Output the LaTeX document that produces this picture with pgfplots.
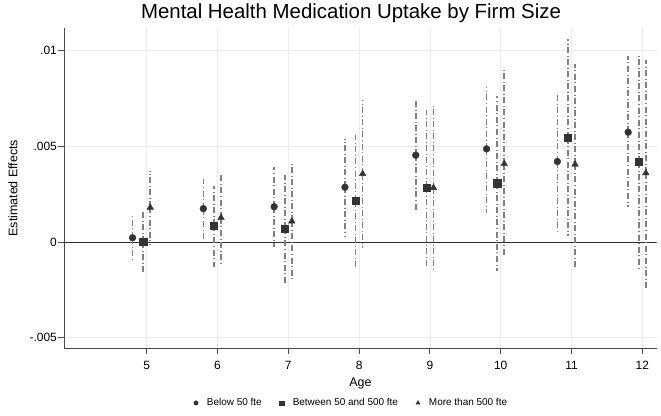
\documentclass[border=0pt]{standalone}
\usepackage{fontspec}
\setmainfont{Liberation Sans}
\usepackage{pgfplots}
\pgfplotsset{compat=1.18}
\usepackage{pgfplotstable}

\definecolor{mk}{HTML}{333333}
\definecolor{eb}{HTML}{808080}
\definecolor{gridc}{HTML}{EBEBEB}
\definecolor{axc}{HTML}{4A4A4A}

\pgfplotstableread{
x est lo hi
4.8 0.00022 -0.00094 0.00137
5.8 0.00174 0.00014 0.0033
6.8 0.00184 -0.00024 0.0039
7.8 0.00286 0.0003 0.0054
8.8 0.00453 0.0016 0.0075
9.8 0.00486 0.0015 0.0081
10.8 0.0042 0.00057 0.0078
11.8 0.00573 0.0018 0.0097
}\below

\pgfplotstableread{
x est lo hi
4.95 0.0000 -0.0016 0.0016
5.95 0.00087 -0.0013 0.0029
6.95 0.00071 -0.0022 0.0035
7.95 0.00215 -0.0014 0.0056
8.95 0.00285 -0.0013 0.0069
9.95 0.00307 -0.0015 0.0076
10.95 0.00545 0.0003 0.0106
11.95 0.00418 -0.0015 0.0098
}\between

\pgfplotstableread{
x est lo hi
5.05 0.0018 -0.0001 0.0037
6.05 0.00127 -0.0011 0.0036
7.05 0.00108 -0.0020 0.0041
8.05 0.00356 -0.0003 0.0074
9.05 0.00283 -0.0015 0.0071
10.05 0.00408 -0.0008 0.0090
11.05 0.00405 -0.0014 0.0093
12.05 0.0036 -0.0025 0.0095
}\above

\begin{document}
\begin{tikzpicture}
\path[use as bounding box] (0,0) rectangle (661bp,416bp);
\begin{axis}[
  at={(64.3bp,67.7bp)}, anchor=south west,
  scale only axis, width=592.4bp, height=320.3bp,
  xmin=3.836, xmax=12.203, ymin=-0.00555, ymax=0.01117,
  axis x line*=bottom, axis y line*=left,
  axis line style={-, axc, line width=0.9bp},
  tick align=outside, major tick length=6bp,
  every tick/.style={axc, line width=0.9bp},
  xtick={5,6,7,8,9,10,11,12},
  xticklabels={5,6,7,8,9,10,11,12},
  ytick={-0.005,0,0.005,0.01},
  yticklabels={-.005,0,.005,.01},
  scaled y ticks=false,
  grid=major, major grid style={gridc, line width=0.8bp},
  tick label style={font=\fontsize{12}{14}\selectfont, text=black},
  yticklabel style={anchor=east, inner sep=0pt, xshift=-1.3bp},
  xticklabel style={anchor=north, inner sep=0pt, yshift=-6.5bp},
  title={Mental Health Medication Uptake by Firm Size},
  title style={font=\fontsize{20.5}{24}\selectfont, anchor=base, at={(axis description cs:0.484,1.0125)}},
  xlabel={Age},
  xlabel style={font=\fontsize{12.5}{14}\selectfont, anchor=base, at={(axis description cs:0.5,-0.1208)}},
  ylabel={Estimated Effects},
  ylabel style={font=\fontsize{12.5}{14}\selectfont, anchor=center, at={(axis description cs:-0.0866,0.5)}},
  legend style={draw=none, fill=none, font=\fontsize{10}{12}\selectfont, at={(axis description cs:0.484,-0.1706)}, anchor=center, legend columns=3, /tikz/every even column/.append style={column sep=15bp}},
  legend cell align=left,
  legend image code/.code={\draw[#1] (0bp,0bp) -- plot coordinates {(0bp,0bp)}; \path[draw=none, fill=none] (-3bp,-2bp) rectangle (9bp,2bp);},
  error bars/y dir=both, error bars/y explicit,
  error bars/error mark=none,
  error bars/error bar style={eb, line width=1.6bp, dash pattern=on 6bp off 2.8bp on 0.5bp off 2.8bp},
]
\addplot[mk, line width=0.9bp, forget plot] coordinates {(3.836,0) (12.203,0)};

\addplot[only marks, mark=*, mark size=3.4bp, mk, mark options={fill=mk, draw=mk},
  legend image post style={mark size=2.2bp}]
  table[x=x, y=est, y error plus expr=\thisrow{hi}-\thisrow{est}, y error minus expr=\thisrow{est}-\thisrow{lo}] {\below};
\addlegendentry{Below 50 fte}

\addplot[only marks, mark=square*, mark size=3.6bp, mk, mark options={fill=mk, draw=mk},
  legend image post style={mark size=2.2bp}]
  table[x=x, y=est, y error plus expr=\thisrow{hi}-\thisrow{est}, y error minus expr=\thisrow{est}-\thisrow{lo}] {\between};
\addlegendentry{Between 50 and 500 fte}

\addplot[only marks, mark=triangle*, mark size=3.8bp, mk, mark options={fill=mk, draw=mk},
  legend image post style={mark size=2.4bp}]
  table[x=x, y=est, y error plus expr=\thisrow{hi}-\thisrow{est}, y error minus expr=\thisrow{est}-\thisrow{lo}] {\above};
\addlegendentry{More than 500 fte}
\end{axis}
\end{tikzpicture}
\end{document}
